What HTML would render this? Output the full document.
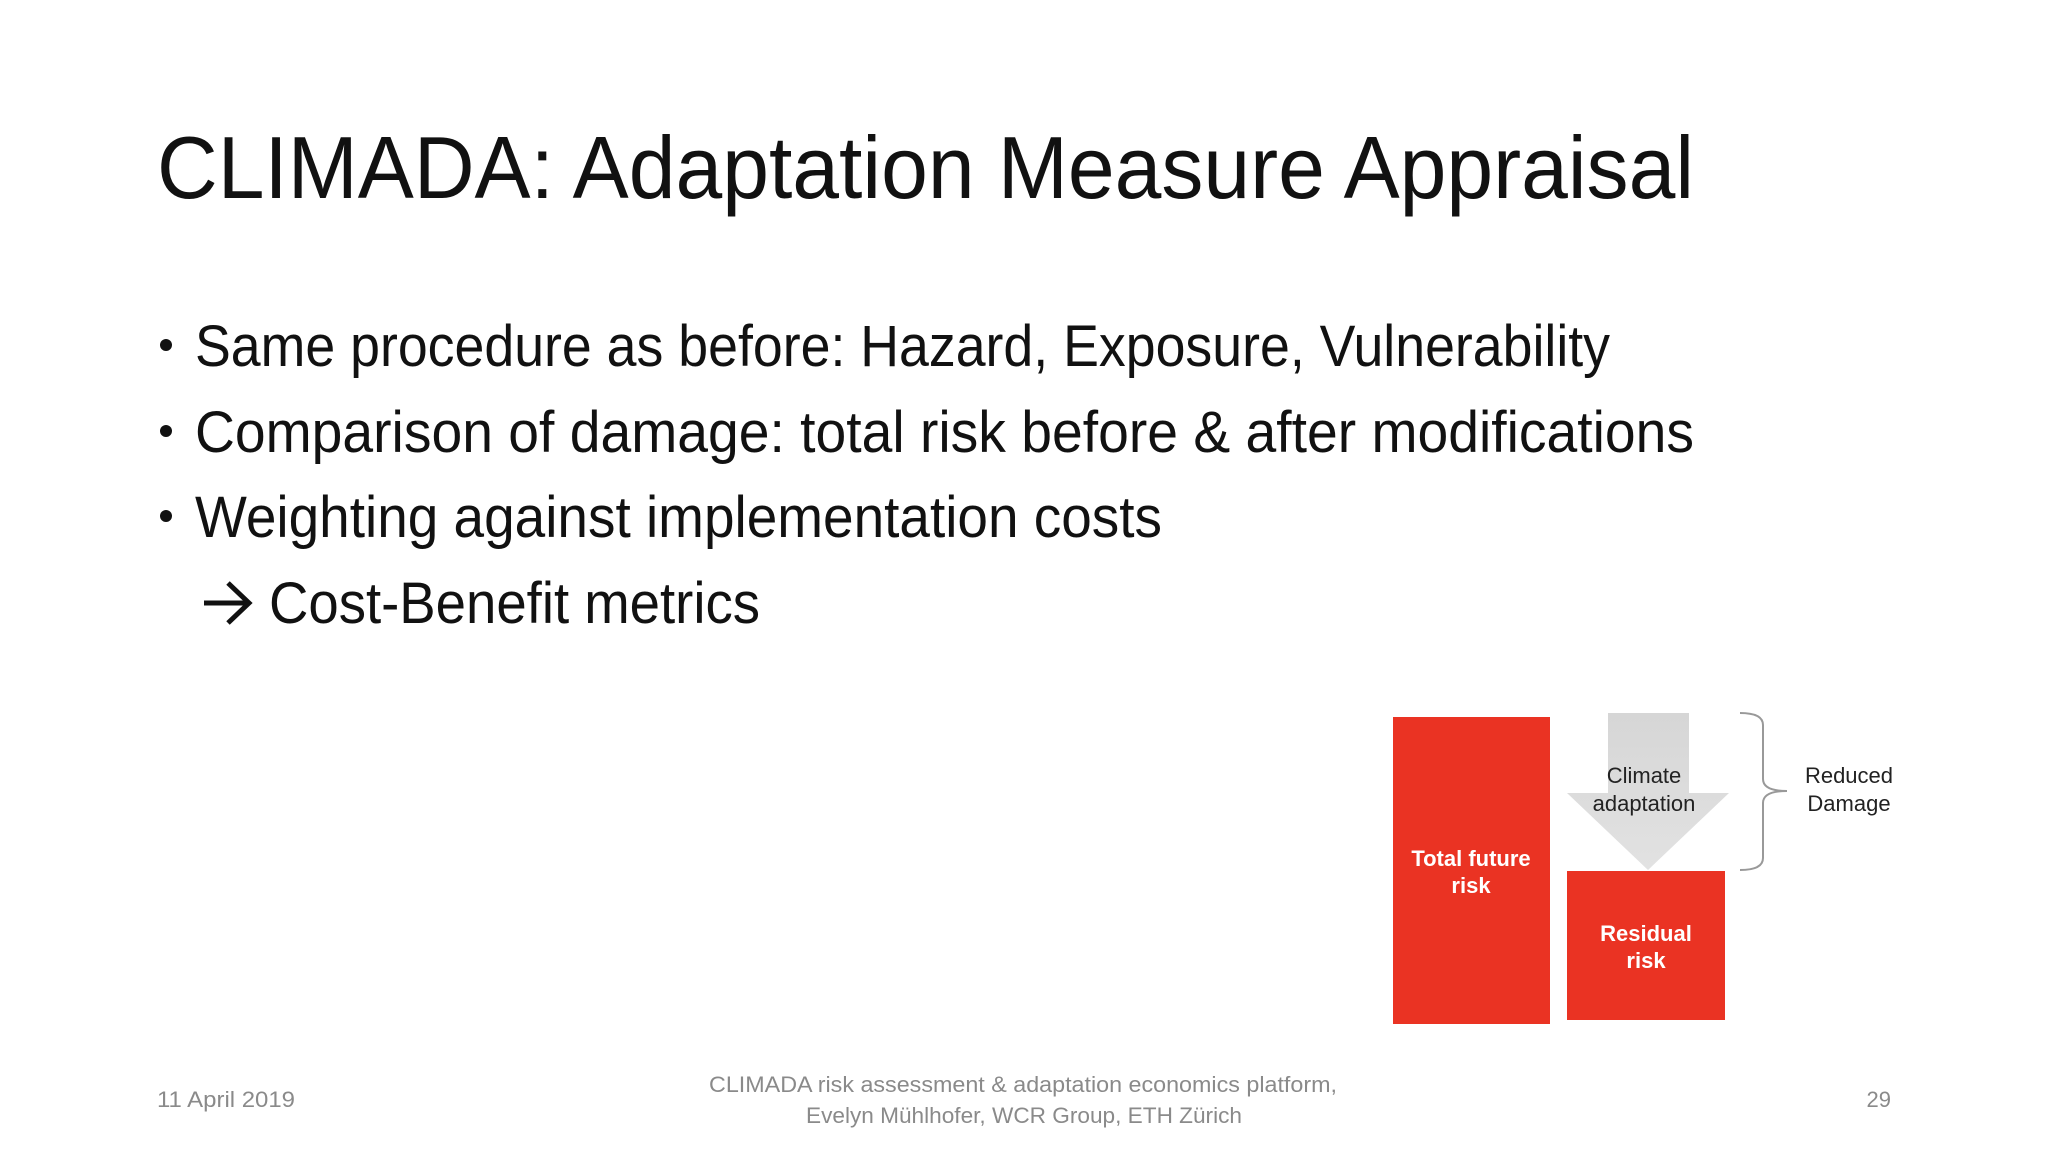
<!DOCTYPE html>
<html><head><meta charset="utf-8"><style>
html,body{margin:0;padding:0;background:#fff;}
svg{display:block;font-family:"Liberation Sans",sans-serif;}
</style></head><body>
<svg width="2048" height="1152" viewBox="0 0 2048 1152">
<defs><linearGradient id="ag" x1="0" y1="0" x2="0" y2="1"><stop offset="0" stop-color="#d6d6d6"/><stop offset="1" stop-color="#e2e2e2"/></linearGradient></defs>
<rect width="2048" height="1152" fill="#fff"/>
<text x="157" y="198" font-size="88" fill="#111" textLength="1537" lengthAdjust="spacingAndGlyphs">CLIMADA: Adaptation Measure Appraisal</text>
<g font-size="58" fill="#111">
<circle cx="166" cy="345" r="6" fill="#111"/>
<text x="195" y="366" textLength="1415" lengthAdjust="spacingAndGlyphs">Same procedure as before: Hazard, Exposure, Vulnerability</text>
<circle cx="166" cy="431" r="6" fill="#111"/>
<text x="195" y="452" textLength="1499" lengthAdjust="spacingAndGlyphs">Comparison of damage: total risk before &amp; after modifications</text>
<circle cx="166" cy="516" r="6" fill="#111"/>
<text x="195" y="537" textLength="967" lengthAdjust="spacingAndGlyphs">Weighting against implementation costs</text>
<path d="M204 603 H248 M228 583 L249 603 L228 623" stroke="#111" stroke-width="5" fill="none"/>
<text x="269" y="623" textLength="491" lengthAdjust="spacingAndGlyphs">Cost-Benefit metrics</text>
</g>
<g>
<rect x="1393" y="717" width="157" height="307" fill="#ea3323"/>
<text x="1471" y="866" font-size="22" font-weight="bold" fill="#fff" text-anchor="middle">Total future</text>
<text x="1471" y="893" font-size="22" font-weight="bold" fill="#fff" text-anchor="middle">risk</text>
<polygon points="1608,713 1689,713 1689,793 1729,793 1648,870 1567,793 1608,793" fill="url(#ag)"/>
<text x="1644" y="783" font-size="22" fill="#222" text-anchor="middle">Climate</text>
<text x="1644" y="811" font-size="22" fill="#222" text-anchor="middle">adaptation</text>
<rect x="1567" y="871" width="158" height="149" fill="#ea3323"/>
<text x="1646" y="941" font-size="22" font-weight="bold" fill="#fff" text-anchor="middle">Residual</text>
<text x="1646" y="968" font-size="22" font-weight="bold" fill="#fff" text-anchor="middle">risk</text>
<path d="M1740 713 Q1763 713 1763 725 V779 Q1763 791 1787 791 Q1763 791 1763 803 V858 Q1763 870 1740 870" stroke="#999" stroke-width="2" fill="none"/>
<text x="1849" y="783" font-size="22" fill="#222" text-anchor="middle">Reduced</text>
<text x="1849" y="811" font-size="22" fill="#222" text-anchor="middle">Damage</text>
</g>
<g font-size="22" fill="#8a8a8a">
<text x="157" y="1107" textLength="138" lengthAdjust="spacingAndGlyphs">11 April 2019</text>
<text x="709" y="1092" textLength="628" lengthAdjust="spacingAndGlyphs">CLIMADA risk assessment &amp; adaptation economics platform,</text>
<text x="806" y="1123" textLength="436" lengthAdjust="spacingAndGlyphs">Evelyn Mühlhofer, WCR Group, ETH Zürich</text>
<text x="1891" y="1107" text-anchor="end">29</text>
</g>
</svg>
</body></html>
